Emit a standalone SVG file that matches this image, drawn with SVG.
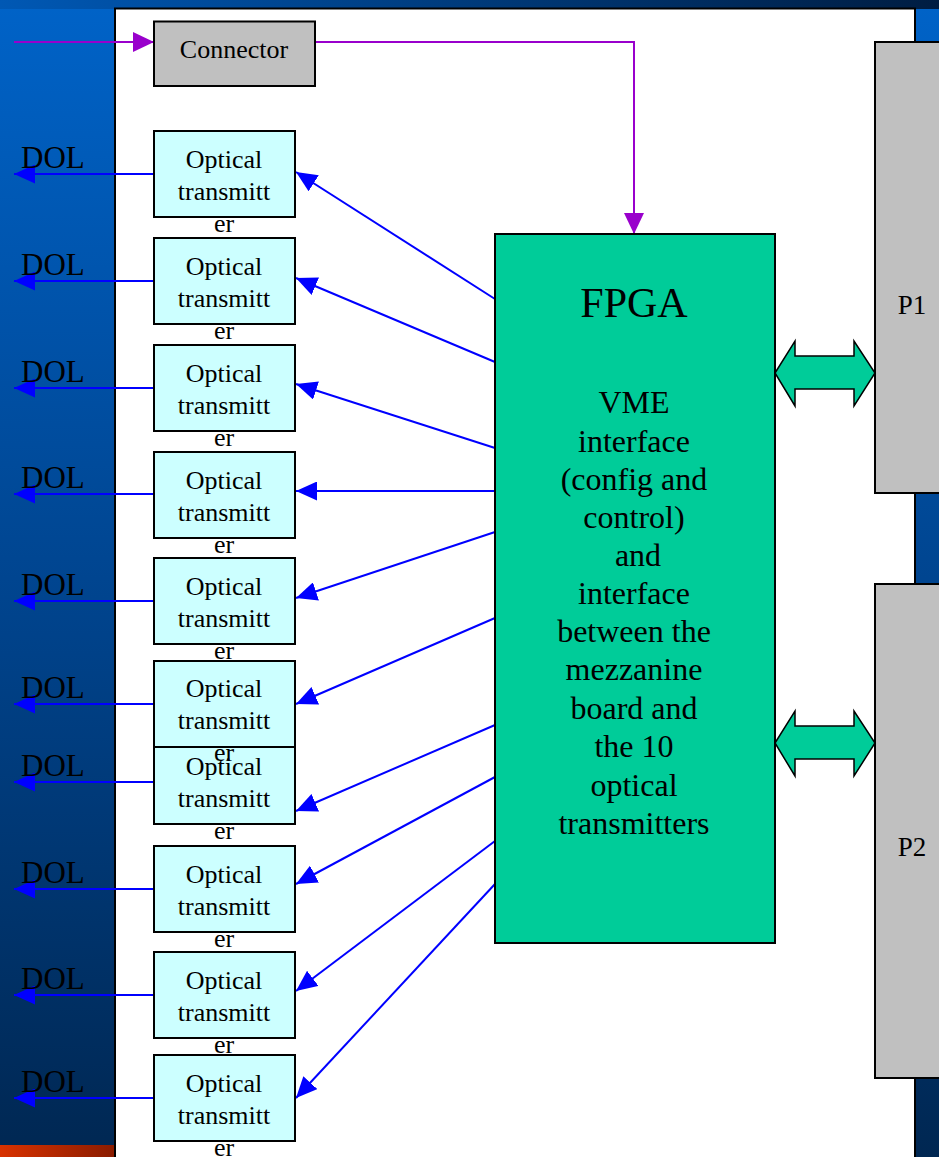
<svg xmlns="http://www.w3.org/2000/svg" width="939" height="1157" viewBox="0 0 939 1157">
<style>
.bx{fill:#ccffff;stroke:#000;stroke-width:2}
.gr{fill:#c0c0c0;stroke:#000;stroke-width:2}
.t{font-family:"Liberation Serif","Times New Roman",serif;fill:#000;text-anchor:middle}
.tb{font-size:26px}
.dol{font-family:"Liberation Serif","Times New Roman",serif;font-size:31px;fill:#000}
.bl{stroke:#0000ff;stroke-width:2;fill:none;marker-end:url(#ab)}
.pu{stroke:#9900cc;stroke-width:2;fill:none;marker-end:url(#ap)}
.fb{font-size:32px}
</style>
<defs>
<linearGradient id="gv" x1="0" y1="0" x2="0" y2="1">
<stop offset="0" stop-color="#0063c8"/>
<stop offset="0.5" stop-color="#004590"/>
<stop offset="1" stop-color="#002752"/>
</linearGradient>
<linearGradient id="gh" x1="0" y1="0" x2="1" y2="0">
<stop offset="0" stop-color="#0058b4"/>
<stop offset="1" stop-color="#001d42"/>
</linearGradient>
<linearGradient id="gr" x1="0" y1="0" x2="1" y2="0">
<stop offset="0" stop-color="#d83200"/>
<stop offset="1" stop-color="#8a1c00"/>
</linearGradient>
<marker id="ab" markerUnits="userSpaceOnUse" viewBox="0 0 21 19" refX="21" refY="9.5" markerWidth="21" markerHeight="19" orient="auto">
<path d="M0,0 L21,9.5 L0,19 z" fill="#0000ff"/>
</marker>
<marker id="ap" markerUnits="userSpaceOnUse" viewBox="0 0 21 20" refX="21" refY="10" markerWidth="21" markerHeight="20" orient="auto">
<path d="M0,0 L21,10 L0,20 z" fill="#9900cc"/>
</marker>
</defs>
<g id="background">
<rect x="0" y="0" width="939" height="1157" fill="url(#gv)"/>
<rect x="0" y="0" width="939" height="9" fill="url(#gh)"/>
<rect x="0" y="1145" width="115" height="12" fill="url(#gr)"/>
<rect x="115" y="8.5" width="800" height="1160" fill="#ffffff" stroke="#000" stroke-width="2"/>
</g>
<g id="connectors">
<line class="pu" x1="14" y1="42" x2="154" y2="42"/>
<path class="pu" d="M315,42 H634 V234"/>
<line class="bl" x1="495" y1="299" x2="296" y2="172"/>
<line class="bl" x1="495" y1="362" x2="296" y2="278"/>
<line class="bl" x1="495" y1="448" x2="296" y2="384"/>
<line class="bl" x1="495" y1="491" x2="296" y2="491"/>
<line class="bl" x1="495" y1="532" x2="296" y2="598"/>
<line class="bl" x1="495" y1="618" x2="296" y2="704"/>
<line class="bl" x1="495" y1="725" x2="296" y2="811"/>
<line class="bl" x1="495" y1="777" x2="296" y2="884"/>
<line class="bl" x1="495" y1="841" x2="296" y2="991"/>
<line class="bl" x1="495" y1="884" x2="296" y2="1098"/>
<line class="bl" x1="154" y1="174" x2="14" y2="174"/>
<line class="bl" x1="154" y1="281" x2="14" y2="281"/>
<line class="bl" x1="154" y1="388" x2="14" y2="388"/>
<line class="bl" x1="154" y1="494" x2="14" y2="494"/>
<line class="bl" x1="154" y1="601" x2="14" y2="601"/>
<line class="bl" x1="154" y1="704" x2="14" y2="704"/>
<line class="bl" x1="154" y1="782" x2="14" y2="782"/>
<line class="bl" x1="154" y1="889" x2="14" y2="889"/>
<line class="bl" x1="154" y1="995" x2="14" y2="995"/>
<line class="bl" x1="154" y1="1098" x2="14" y2="1098"/>
<polygon points="775,373 795,341 795,356 854,356 854,341 875,373 854,406 854,389 795,389 795,406" fill="#00cc99" stroke="#000" stroke-width="1.5"/>
<polygon points="775,743 795,711 795,726 854,726 854,711 875,743 854,776 854,759 795,759 795,776" fill="#00cc99" stroke="#000" stroke-width="1.5"/>
</g>
<g id="dol-labels">
<text class="dol" x="21" y="168">DOL</text>
<text class="dol" x="21" y="275">DOL</text>
<text class="dol" x="21" y="382">DOL</text>
<text class="dol" x="21" y="488">DOL</text>
<text class="dol" x="21" y="595">DOL</text>
<text class="dol" x="21" y="698">DOL</text>
<text class="dol" x="21" y="776">DOL</text>
<text class="dol" x="21" y="883">DOL</text>
<text class="dol" x="21" y="989">DOL</text>
<text class="dol" x="21" y="1092">DOL</text>
</g>
<g id="connector">
<rect class="gr" x="154" y="21.5" width="161" height="64.5"/>
<text class="t" x="234" y="58" font-size="26">Connector</text>
</g>
<g id="fpga">
<rect x="495" y="234" width="280" height="709" fill="#00cc99" stroke="#000" stroke-width="2"/>
<text class="t" x="634" y="317" font-size="42">FPGA</text>
<text class="t fb" x="634" y="413">VME</text>
<text class="t fb" x="634" y="452">interface</text>
<text class="t fb" x="634" y="490">(config and</text>
<text class="t fb" x="634" y="528">control)</text>
<text class="t fb" x="638" y="566">and</text>
<text class="t fb" x="634" y="604">interface</text>
<text class="t fb" x="634" y="642">between the</text>
<text class="t fb" x="634" y="680">mezzanine</text>
<text class="t fb" x="634" y="719">board and</text>
<text class="t fb" x="634" y="757">the 10</text>
<text class="t fb" x="634" y="796">optical</text>
<text class="t fb" x="634" y="834">transmitters</text>
</g>
<g id="p1">
<rect class="gr" x="875" y="42" width="80" height="451"/>
<text class="t" x="912" y="314" font-size="27">P1</text>
</g>
<g id="p2">
<rect class="gr" x="875" y="584" width="80" height="494"/>
<text class="t" x="912" y="856" font-size="27">P2</text>
</g>
<g id="ot1">
<rect class="bx" x="154" y="131" width="141" height="86"/>
<text class="t tb" x="224" y="168">Optical</text><text class="t tb" x="224" y="200">transmitt</text><text class="t tb" x="224" y="232">er</text>
</g>
<g id="ot2">
<rect class="bx" x="154" y="238" width="141" height="86"/>
<text class="t tb" x="224" y="275">Optical</text><text class="t tb" x="224" y="307">transmitt</text><text class="t tb" x="224" y="339">er</text>
</g>
<g id="ot3">
<rect class="bx" x="154" y="345" width="141" height="86"/>
<text class="t tb" x="224" y="382">Optical</text><text class="t tb" x="224" y="414">transmitt</text><text class="t tb" x="224" y="446">er</text>
</g>
<g id="ot4">
<rect class="bx" x="154" y="452" width="141" height="86"/>
<text class="t tb" x="224" y="489">Optical</text><text class="t tb" x="224" y="521">transmitt</text><text class="t tb" x="224" y="553">er</text>
</g>
<g id="ot5">
<rect class="bx" x="154" y="558" width="141" height="86"/>
<text class="t tb" x="224" y="595">Optical</text><text class="t tb" x="224" y="627">transmitt</text><text class="t tb" x="224" y="659">er</text>
</g>
<g id="ot7">
<rect class="bx" x="154" y="747" width="141" height="77"/>
<text class="t tb" x="224" y="775">Optical</text><text class="t tb" x="224" y="807">transmitt</text><text class="t tb" x="224" y="839">er</text>
</g>
<g id="ot6">
<rect class="bx" x="154" y="661" width="141" height="86"/>
<text class="t tb" x="224" y="697">Optical</text><text class="t tb" x="224" y="729">transmitt</text><text class="t tb" x="224" y="761">er</text>
</g>
<g id="ot8">
<rect class="bx" x="154" y="846" width="141" height="86"/>
<text class="t tb" x="224" y="883">Optical</text><text class="t tb" x="224" y="915">transmitt</text><text class="t tb" x="224" y="947">er</text>
</g>
<g id="ot9">
<rect class="bx" x="154" y="952" width="141" height="86"/>
<text class="t tb" x="224" y="989">Optical</text><text class="t tb" x="224" y="1021">transmitt</text><text class="t tb" x="224" y="1053">er</text>
</g>
<g id="ot10">
<rect class="bx" x="154" y="1055" width="141" height="86"/>
<text class="t tb" x="224" y="1092">Optical</text><text class="t tb" x="224" y="1124">transmitt</text><text class="t tb" x="224" y="1156">er</text>
</g>
</svg>
